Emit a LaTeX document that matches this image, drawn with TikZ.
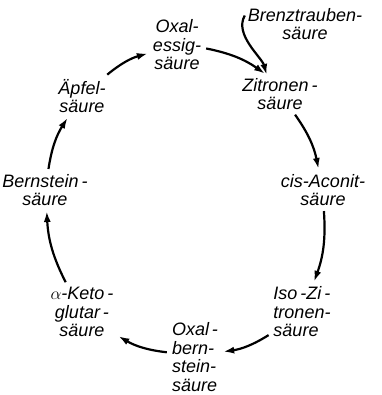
\documentclass[tikz,border=0pt]{standalone}
\usepackage{fontspec}
\setmainfont{Liberation Sans}
\usetikzlibrary{arrows.meta}
\begin{document}
\begin{tikzpicture}[x=1pt,y=1pt,
  lab/.style={font=\fontsize{18}{18.5}\selectfont\itshape, align=center, inner sep=3pt},
  labl/.style={lab, align=left},
  arr/.style={-{Latex[length=11pt,width=7pt]}, line width=2.2pt},
  cyc/.style={arr, bend left=12, shorten <=2pt, shorten >=2pt}]
\useasboundingbox (0,0) rectangle (381,395);
\node[lab] (oxe) at (177,350) {Oxal-\\essig-\\säure};
\node[lab] (brenz) at (305,371) {Brenztrauben-\\säure};
\node[lab] (zit) at (280,301) {Zitronen\,-\\säure};
\node[lab] (apf) at (82,299) {Äpfel-\\säure};
\node[lab] (bern) at (45,205) {Bernstein\,-\\säure};
\node[lab] (cis) at (323,205) {cis-Aconit-\\säure};
\node[lab] (keto) at (82,83) {$\alpha$-Keto\,-\\glutar\,-\\säure};
\node[labl] (iso) at (302,83) {Iso\,-Zi\,-\\tronen-\\säure};
\node[labl] (oxb) at (195,38) {Oxal\,-\\bern-\\stein-\\säure};
\draw[cyc] (apf) to (oxe);
\draw[cyc] (oxe) to (zit.125);
\draw[arr] (brenz.172) .. controls +(240:22) and +(105:18) .. (zit.125);
\draw[cyc] (zit) to (cis);
\draw[cyc] (cis) to (iso);
\draw[cyc] (iso) to (oxb);
\draw[cyc] (oxb) to (keto);
\draw[cyc] (keto) to (bern);
\draw[cyc] (bern) to (apf);
\end{tikzpicture}
\end{document}
